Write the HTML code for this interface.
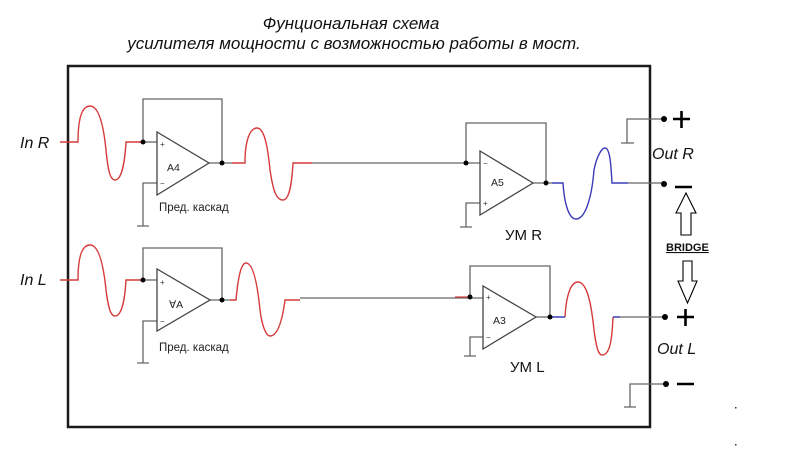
<!DOCTYPE html>
<html><head><meta charset="utf-8"><style>
html,body{margin:0;padding:0;background:#fff;}
svg{display:block}
text{font-family:"Liberation Sans",sans-serif;}
</style></head><body>
<svg width="785" height="463" viewBox="0 0 785 463" xmlns="http://www.w3.org/2000/svg">
<rect width="785" height="463" fill="#fff"/>
<text x="351" y="29" font-size="17" font-style="italic" text-anchor="middle" fill="#111">Фунциональная схема</text>
<text x="354" y="49" font-size="17" font-style="italic" text-anchor="middle" fill="#111">усилителя мощности с возможностью работы в мост.</text>
<path d="M68 66 H650 V427 H68 Z" fill="none" stroke="#1a1a1a" stroke-width="2.5"/>

<g fill="none" stroke="#666" stroke-width="1.3">
<path d="M143 142 V99 H222 V163"/>
<path d="M143 142 H157"/>
<path d="M157 183 H143 V226 M137 226 H149"/>
<path d="M209 163 H232"/>
<path d="M157 132 V195 L209 163 Z" stroke="#444"/>
<path d="M143 280 V248 H222 V300"/>
<path d="M143 280 H157"/>
<path d="M157 321 H143 V363 M137 363 H149"/>
<path d="M210 300 H230"/>
<path d="M157 269 V331 L210 300 Z" stroke="#444"/>
<path d="M312 163 H480"/>
<path d="M300 298 H483"/>
<path d="M466 163 V123 H546 V183"/>
<path d="M480 203 H466 V227 M460 227 H472"/>
<path d="M533 183 H552"/>
<path d="M480 151 V215 L533 183 Z" stroke="#444"/>
<path d="M470 297 V266 H550 V317"/>
<path d="M483 337 H470 V356 M464 356 H476"/>
<path d="M536 317 H552"/>
<path d="M483 286 V349 L536 317 Z" stroke="#444"/>
<path d="M627 143 V119 H664 M621 143 H634"/>
<path d="M628 183 H664"/>
<path d="M620 317 H665"/>
<path d="M630 407 V384 H666 M624 407 H636"/>
</g>
<g fill="none" stroke="#d63a3a" stroke-width="1.4">
<path d="M60 142 H78 C78 118 82 106 90 106 C100 106 104 130 106 150 C108 170 110 180 115 180 C122 180 125 160 126 142 H143"/>
<path d="M60 280 H78 C78 256 82 245 90 245 C100 245 104 270 106 290 C108 305 110 316 115 316 C122 316 125 298 126 280 H143"/>
<path d="M232 163 H245 C245 140 250 128 257 128 C265 128 268 150 270 170 C273 190 276 200 283 200 C290 200 292 180 293 163 H312"/>
<path d="M230 300 H236 C238 278 241 263 246 263 C254 263 258 290 260 310 C262 326 266 336 270 336 C279 336 283 315 285 300 H300"/>
<path d="M565 317 C566 298 570 282 578 282 C588 282 592 310 594 330 C596 345 598 355 602 355 C610 355 612 340 613 317"/>
<path d="M455 297 H470" stroke-width="1.2"/>
</g>
<g fill="none" stroke="#3b3bb8" stroke-width="1.4">
<path d="M552 183 H563 C564 200 568 219 576 219 C586 219 592 195 594 170 C597 155 602 148 605 148 C610 148 611 165 612 183 H628"/>
<path d="M552 317 H565 M613 317 H620"/>
</g>
<g fill="#000">
<circle cx="143" cy="142" r="2.5"/><circle cx="222" cy="163" r="2.5"/>
<circle cx="143" cy="280" r="2.5"/><circle cx="222" cy="300" r="2.5"/>
<circle cx="466" cy="163" r="2.5"/><circle cx="546" cy="183" r="2.5"/>
<circle cx="470" cy="297" r="2.5"/><circle cx="550" cy="317" r="2.5"/>
<circle cx="664" cy="119" r="3"/><circle cx="664" cy="184" r="3"/>
<circle cx="665" cy="317" r="3"/><circle cx="666" cy="384" r="3"/>
</g>
<g font-size="8" fill="#333">
<text x="160" y="147">+</text><text x="160" y="186">−</text>
<text x="160" y="285">+</text><text x="160" y="324">−</text>
<text x="483" y="166">−</text><text x="483" y="206">+</text>
<text x="486" y="300">+</text><text x="486" y="340">−</text>
</g>
<g font-size="10.5" fill="#222">
<text x="167" y="171">A4</text>
<text x="169" y="308">ⱯA</text>
<text x="491" y="186">A5</text>
<text x="493" y="324">A3</text>
<text x="159" y="211" font-size="11.5">Пред. каскад</text>
<text x="159" y="351" font-size="11.5">Пред. каскад</text>
</g>
<rect x="232" y="198" width="10" height="16" fill="#fff"/>
<g font-size="15" fill="#111">
<text x="505" y="240">УМ R</text>
<text x="510" y="372">УМ L</text>
</g>
<g font-size="16" font-style="italic" fill="#111">
<text x="20" y="148">In R</text>
<text x="20" y="285">In L</text>
<text x="652" y="159">Out R</text>
<text x="657" y="354">Out L</text>
</g>
<g stroke="#000" stroke-width="2.6">
<path d="M673 119 H690 M681.5 111 V128"/>
<path d="M675 187 H692"/>
<path d="M677 317 H694 M685.5 309 V326"/>
<path d="M677 384 H694"/>
</g>
<g fill="#fff" stroke="#000" stroke-width="1.1">
<path d="M686 193 L696 213 H691 V235 H681 V213 H676 Z"/>
<path d="M683 261 H692 V281 H697 L687.5 303 L678 281 H683 Z"/>
</g>
<text x="666" y="251" font-size="11" font-weight="bold" fill="#111" text-decoration="underline">BRIDGE</text>
<rect x="735" y="407" width="1.5" height="1.5" fill="#333"/>
<rect x="735" y="444" width="1.5" height="1.5" fill="#333"/>
</svg>
</body></html>
